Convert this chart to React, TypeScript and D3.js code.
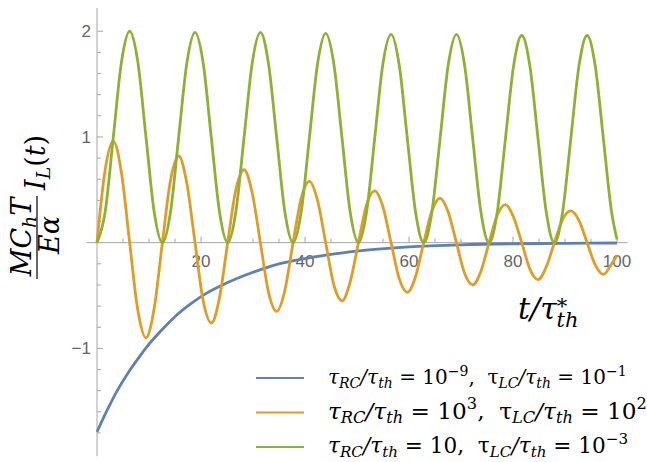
import React from 'react'
import * as d3 from 'd3'

// time grid (t / tau*_th) shared by the two oscillating curves
const tGrid = [
  0, 1.57, 3.14, 4.71, 6.28, 7.85, 9.42, 11.0, 12.57, 14.14, 15.71, 17.28, 18.85, 20.42, 21.99, 23.56,
  25.13, 26.7, 28.27, 29.85, 31.42, 32.99, 34.56, 36.13, 37.7, 39.27, 40.84, 42.41, 43.98, 45.55, 47.12, 48.69,
  50.27, 51.84, 53.41, 54.98, 56.55, 58.12, 59.69, 61.26, 62.83, 64.4, 65.97, 67.54, 69.12, 70.69, 72.26, 73.83,
  75.4, 76.97, 78.54, 80.11, 81.68, 83.25, 84.82, 86.39, 87.96, 89.54, 91.11, 92.68, 94.25, 95.82, 97.39, 98.96,
  100,
]

// tau_RC/tau_th = 10^3, tau_LC/tau_th = 10^2
const orangeI = [
  0, 0.69, 0.96, 0.66, 0, -0.64, -0.9, -0.62,
  0, 0.59, 0.82, 0.56, 0, -0.55, -0.76, -0.52,
  0, 0.5, 0.69, 0.47, 0, -0.47, -0.65, -0.45,
  0, 0.42, 0.58, 0.4, 0, -0.4, -0.55, -0.37,
  0, 0.36, 0.49, 0.34, 0, -0.34, -0.47, -0.32,
  0, 0.3, 0.42, 0.29, 0, -0.29, -0.4, -0.27,
  0, 0.26, 0.36, 0.24, 0, -0.25, -0.35, -0.23,
  0, 0.22, 0.3, 0.21, 0, -0.21, -0.3, -0.2,
  -0.12,
]

// tau_RC/tau_th = 10, tau_LC/tau_th = 10^-3
const greenI = [
  0, 0.29, 1.0, 1.71, 2.0, 1.71, 1.0, 0.29,
  0, 0.29, 1.0, 1.7, 1.99, 1.7, 0.99, 0.29,
  0, 0.29, 0.99, 1.7, 1.99, 1.69, 0.99, 0.29,
  0, 0.29, 0.99, 1.69, 1.98, 1.69, 0.99, 0.29,
  0, 0.29, 0.99, 1.69, 1.97, 1.68, 0.98, 0.29,
  0, 0.29, 0.98, 1.68, 1.97, 1.68, 0.98, 0.29,
  0, 0.29, 0.98, 1.67, 1.96, 1.67, 0.98, 0.29,
  0, 0.29, 0.98, 1.67, 1.96, 1.67, 0.98, 0.29,
  0.03,
]

// tau_RC/tau_th = 10^-9, tau_LC/tau_th = 10^-1
const blueT = [0, 2, 4, 6, 8, 10, 12, 15, 18, 21, 25, 30, 35, 40, 45, 50, 60, 70, 80, 90, 100]
const blueI = [
  -1.79, -1.58, -1.39, -1.23, -1.09, -0.96, -0.85, -0.7, -0.58, -0.48, -0.38, -0.28, -0.2, -0.15, -0.11,
  -0.08, -0.04, -0.02, -0.01, -0.006, -0.003,
]

const xMajor = [20, 40, 60, 80, 100]
const xMinor = [5, 10, 15, 25, 30, 35, 45, 50, 55, 65, 70, 75, 85, 90, 95]
const yMajor = [-1, 1, 2]
const yMinor = [-1.8, -1.6, -1.4, -1.2, -0.8, -0.6, -0.4, -0.2, 0.2, 0.4, 0.6, 0.8, 1.2, 1.4, 1.6, 1.8]

const colors = ['#5E81B5', '#E19C24', '#8FB032']
const rcExp = ['−9', '3', '']
const lcExp = ['−1', '2', '−3']

const W = 647
const H = 462
const mathFont = '"DejaVu Serif", serif'
const tickFont = '"Liberation Sans Narrow", "Liberation Sans", sans-serif'

type Seg = [string, string]

// shifts (in em) for subscript, superscript, stacked subscript, low star
const SHIFT: Record<string, number> = {sb: 0.18, sp: -0.42, st: 0.25, ss: -0.2}

function MathText(props: {x: number; y: number; size: number; segs: Seg[]; anchor?: string}) {
  const {x, y, size, segs, anchor} = props
  let cur = 0
  return (
    <text x={x} y={y} fontSize={size} fontFamily={mathFont} textAnchor={anchor || 'start'} style={{whiteSpace: 'pre'}} fill="#000">
      {segs.map(([s, k], i) => {
        const target = (SHIFT[k] || 0) * size
        const dy = target - cur
        cur = target
        const small = k in SHIFT
        const dx = k === 'st' ? -size * 0.36 : 0
        return (
          <tspan key={i} dy={dy} dx={dx} fontStyle={k === 'r' || k === 'sp' || k === 'ss' ? 'normal' : 'italic'} fontSize={small ? size * 0.7 : size}>
            {s}
          </tspan>
        )
      })}
    </text>
  )
}

export default function App() {
  const x = d3.scaleLinear().domain([-2, 102]).range([86.6, 627.4])
  const y = d3.scaleLinear().domain([-2.02, 2.22]).range([456.2, 8])

  const line = d3
    .line<[number, number]>()
    .x((d) => x(d[0]))
    .y((d) => y(d[1]))
    .curve(d3.curveMonotoneX)

  const series = [
    blueT.map((t, i) => [t, blueI[i]] as [number, number]),
    tGrid.map((t, i) => [t, orangeI[i]] as [number, number]),
    tGrid.map((t, i) => [t, greenI[i]] as [number, number]),
  ]

  const legendSizes = [20, 23.2, 21.6]
  const legendY = [384, 418.5, 453]

  return (
    <svg width={W} height={H} style={{position: 'absolute', left: 0, top: 0, background: '#fff'}}>
      {/* axes */}
      <g stroke="#a6a6a6" strokeWidth={1}>
        <line x1={x(-2)} x2={x(102)} y1={y(0)} y2={y(0)} />
        <line x1={x(0)} x2={x(0)} y1={y(2.22)} y2={y(-2.02)} />
        {xMajor.map((v) => (
          <line key={'xM' + v} x1={x(v)} x2={x(v)} y1={y(0)} y2={y(0) - 6} />
        ))}
        {xMinor.map((v) => (
          <line key={'xm' + v} x1={x(v)} x2={x(v)} y1={y(0)} y2={y(0) - 4} />
        ))}
        {yMajor.map((v) => (
          <line key={'yM' + v} x1={x(0)} x2={x(0) + 6} y1={y(v)} y2={y(v)} />
        ))}
        {yMinor.map((v) => (
          <line key={'ym' + v} x1={x(0)} x2={x(0) + 4} y1={y(v)} y2={y(v)} />
        ))}
      </g>
      <g fill="#666" fontFamily={tickFont} fontSize={17}>
        {xMajor.map((v) => (
          <text key={'xl' + v} x={x(v)} y={y(0) + 24} textAnchor="middle">
            {v}
          </text>
        ))}
        {yMajor.map((v) => (
          <text key={'yl' + v} x={x(0) - 6} y={y(v) + 6} textAnchor="end">
            {v < 0 ? '−' + Math.abs(v) : v}
          </text>
        ))}
      </g>

      {/* curves */}
      {series.map((s, i) => (
        <path key={i} d={line(s) || ''} fill="none" stroke={colors[i]} strokeWidth={2.8} strokeLinejoin="round" />
      ))}

      {/* axis labels */}
      <MathText x={518} y={319} size={30} segs={[['t/τ', 'i'], ['*', 'ss'], ['th', 'st']]} />

      <g transform="translate(37,236) rotate(-90)">
        <MathText x={-1} y={-6} size={27} anchor="middle" segs={[['MC', 'i'], ['h', 'sb'], ['T', 'i']]} />
        <line x1={-43} x2={40} y1={0} y2={0} stroke="#000" strokeWidth={1.2} />
        <MathText x={1} y={22} size={27} anchor="middle" segs={[['Eα', 'i']]} />
        <MathText x={46} y={8} size={27} segs={[['I', 'i'], ['L', 'sb'], ['(', 'r'], ['t', 'i'], [')', 'r']]} />
      </g>

      {/* legend */}
      {colors.map((c, i) => {
        const segs: Seg[] = [
          ['τ', 'i'], ['RC', 'sb'], ['/τ', 'i'], ['th', 'sb'], [' = 10', 'r'],
        ]
        if (rcExp[i]) segs.push([rcExp[i], 'sp'])
        segs.push([',  τ', 'r'], ['LC', 'sb'], ['/τ', 'i'], ['th', 'sb'], [' = 10', 'r'], [lcExp[i], 'sp'])
        return (
          <g key={'lg' + i}>
            <line x1={256} x2={304} y1={legendY[i] - 6} y2={legendY[i] - 6} stroke={c} strokeWidth={2} />
            <MathText x={328} y={legendY[i]} size={legendSizes[i]} segs={segs} />
          </g>
        )
      })}
    </svg>
  )
}
